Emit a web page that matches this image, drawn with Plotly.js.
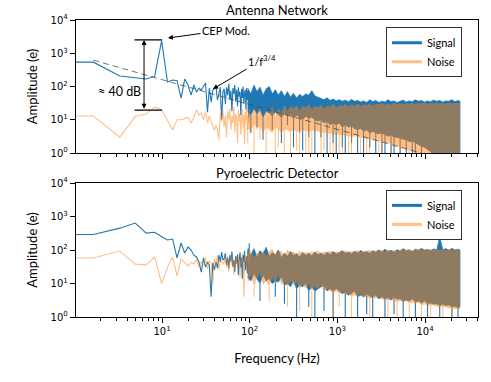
<!DOCTYPE html>
<html>
<head>
<meta charset="utf-8">
<script src="https://cdn.plot.ly/plotly-3.0.1.min.js"></script>
<style>
  html, body { margin: 0; padding: 0; background: #fff; }
  #graph { width: 491px; height: 382px; }
</style>
</head>
<body>
<div id="graph"></div>
<script>
// low frequency bins (individual points are visible here)
const freqLow = [1.0, 1.65, 3.3, 4.95, 6.6, 8.25, 9.9, 11.55, 13.2, 14.85, 16.5, 18.15, 19.8, 21.45, 23.1, 24.75,
  26.4, 28.05, 29.7, 31.35, 33.0, 34.65, 36.3, 37.95, 39.6, 41.25, 42.9, 44.55, 46.2, 47.85, 49.5, 51.15, 52.8,
  54.45, 56.1, 57.75, 59.4, 61.05, 62.7, 64.35, 66.0, 67.65, 69.3, 70.95, 72.6, 74.25, 75.9, 77.55, 79.2, 80.85,
  82.5, 84.15, 85.8, 87.45, 89.1, 90.75, 92.4, 94.05, 95.7, 97.35, 99.0];

const antSigLow = [540, 540, 207, 180, 168, 205, 2400, 136, 157, 150,
  45, 168, 111, 55, 111, 68, 90, 78, 98, 127,
  17, 90, 34, 78, 90, 103, 39, 60, 95, 10,
  70, 85, 30, 95, 55, 120, 40, 75, 18, 90,
  60, 110, 35, 80, 25, 95, 50, 70, 14, 85,
  45, 100, 30, 65, 80, 20, 90, 40, 75, 12, 60];
const antNoiseLow = [13, 13, 3, 12.5, 15, 24, 20, 10, 5, 10,
  10, 11, 12, 8, 12, 20, 14, 16, 10, 18,
  8, 13, 9, 6, 4.9, 7, 5, 2.5, 16, 9,
  20, 6, 14, 3, 18, 10, 22, 5, 13, 8,
  25, 4, 15, 11, 2, 19, 9, 16, 3.5, 12,
  21, 6, 14, 1.8, 17, 10, 24, 5, 13, 8, 20];
const pyroSigLow = [290, 290, 450, 640, 320, 340, 250, 200, 213, 58,
  162, 81, 123, 100, 70, 62, 44, 22, 58, 31,
  44, 36, 4, 41, 25, 44, 29, 70, 44, 87,
  50, 55, 80, 35, 60, 28, 70, 45, 90, 32,
  50, 22, 65, 40, 75, 18, 55, 85, 30, 60,
  14, 70, 45, 95, 25, 50, 65, 20, 110, 40, 160];
const pyroNoiseLow = [58, 58, 93, 38, 36, 62, 10, 30, 62, 17,
  54, 41, 33, 44, 38, 52, 30, 45, 36, 60,
  28, 48, 40, 10, 55, 33, 70, 26, 50, 45,
  38, 42, 65, 30, 55, 22, 48, 75, 35, 58,
  18, 50, 40, 68, 28, 45, 60, 15, 52, 38,
  80, 33, 4, 55, 45, 70, 25, 62, 40, 90, 50];

// dense part: upper envelope and lower base of the spectra
const bandFreq = [95, 103, 112, 121, 131, 142, 154, 167, 181, 196,
  212, 230, 249, 270, 292, 316, 343, 371, 402, 436,
  472, 511, 554, 600, 650, 704, 763, 826, 895, 970,
  1050, 1140, 1230, 1340, 1450, 1570, 1700, 1840, 1990, 2160,
  2340, 2530, 2740, 2970, 3220, 3490, 3780, 4090, 4430, 4800,
  5200, 5630, 6100, 6610, 7160, 7760, 8400, 9100, 9860, 10680,
  11570, 12530, 13580, 14710, 15930, 17260, 18700, 20250, 21940, 23770,
  25000];

const antSigHi = [90, 60, 110, 70, 95, 55, 85, 100, 60, 80,
  55, 75, 50, 70, 48, 62, 45, 58, 50, 60,
  55, 75, 52, 48, 44, 40, 46, 38, 42, 37,
  40, 36, 39, 35, 41, 36, 38, 34, 37, 33,
  40, 35, 38, 33, 36, 34, 40, 35, 37, 33,
  36, 39, 34, 37, 35, 40, 36, 38, 34, 37,
  35, 39, 36, 38, 34, 37, 36, 40, 35, 38,
  36];
const antSigLo = [18, 14, 22, 15, 20, 12, 18, 16, 13, 17,
  14, 12, 15, 13, 15, 11, 14, 12, 10, 13,
  11, 12, 10, 9, 10, 8, 9, 7, 8, 7,
  8, 6, 7, 6, 6.5, 5.5, 5, 5.5, 4.5, 5,
  4, 4.5, 4, 3.8, 4, 3.5, 3.2, 3.5, 3, 3,
  2.8, 2.6, 2.5, 2.2, 2.3, 2, 1.8, 1.6, 1.5, 1.3,
  1.1, 0.9, 0.7, 0.5, 0.5, 0.5, 0.5, 0.5, 0.5, 0.5,
  0.5];
const antNoiseHi = [18, 12, 22, 14, 25, 11, 20, 15, 26, 13,
  22, 17, 28, 18, 26, 22, 28, 19, 27, 23,
  30, 21, 26, 24, 29, 22, 27, 25, 30, 24,
  28, 26, 30, 25, 29, 27, 31, 26, 29, 28,
  31, 27, 30, 29, 32, 28, 31, 29, 32, 30,
  31, 29, 32, 30, 33, 30, 32, 31, 33, 30,
  32, 31, 33, 31, 32, 30, 33, 31, 32, 31,
  32];
const antNoiseLo = [6, 4, 8, 5, 7, 4, 6, 5, 4, 6,
  5, 4, 5, 5, 4, 5.5, 4, 5, 4.5, 5,
  4, 5, 4.5, 4.5, 4, 4.2, 3.8, 4, 3.5, 3.8,
  3.5, 3.6, 3.2, 3.4, 3, 3.2, 3, 2.8, 3, 2.6,
  2.7, 2.5, 2.4, 2.3, 2.2, 2, 2, 1.8, 1.7, 1.6,
  1.5, 1.4, 1.3, 1.2, 1.1, 1, 0.9, 0.8, 0.7, 0.6,
  0.5, 0.5, 0.5, 0.5, 0.5, 0.5, 0.5, 0.5, 0.5, 0.5,
  0.5];

const pyroSigHi = [90, 70, 110, 60, 95, 75, 120, 65, 85, 70,
  100, 60, 80, 65, 90, 70, 78, 62, 85, 70,
  80, 68, 88, 72, 82, 70, 86, 74, 90, 76,
  84, 95, 80, 88, 78, 92, 82, 96, 84, 90,
  80, 95, 86, 100, 88, 105, 90, 98, 86, 102,
  92, 110, 95, 100, 90, 106, 96, 112, 98, 104,
  95, 108, 100, 240, 102, 110, 98, 112, 100, 106,
  100];
const pyroSigLo = [15, 12, 20, 14, 10, 18, 12, 14, 10, 12,
  11, 16, 9, 10, 8, 12, 7, 9, 8, 10,
  6, 8, 6, 7, 8, 9, 6, 7, 6, 7,
  6, 5, 5.5, 4.5, 5, 6, 4, 4.5, 4, 5,
  4.2, 3.8, 4.5, 3.5, 4, 3.5, 3.8, 3.2, 4, 3.4,
  3.5, 3, 3.2, 3, 3.5, 2.8, 3, 2.6, 3, 2.5,
  2.6, 2.4, 2.5, 2.2, 2.4, 2.2, 2.3, 2, 2.1, 1.9,
  2];
const pyroNoiseHi = [70, 95, 60, 85, 75, 100, 65, 90, 110, 75,
  85, 95, 70, 105, 80, 90, 72, 95, 80, 88,
  74, 92, 82, 98, 78, 90, 84, 96, 80, 92,
  86, 88, 98, 84, 94, 86, 100, 88, 96, 90,
  102, 88, 98, 92, 96, 90, 104, 94, 100, 92,
  106, 96, 102, 108, 98, 104, 110, 100, 106, 98,
  108, 102, 110, 100, 106, 98, 108, 102, 110, 100,
  105];
const pyroNoiseLo = [10, 18, 8, 14, 20, 9, 12, 8, 15, 10,
  18, 9, 11, 8, 12, 9, 11, 7, 9, 7,
  10, 6, 8, 7, 9, 6, 7, 6, 5, 6,
  5, 6, 4.5, 5, 4, 4.5, 4, 5, 3.8, 4,
  3.5, 4, 3.5, 4.2, 3.2, 3.5, 3, 3.5, 3, 2.8,
  3, 2.8, 3, 2.5, 2.7, 2.5, 2.8, 2.2, 2.4, 2.2,
  2.2, 2.3, 2, 2.1, 1.9, 2, 1.8, 1.9, 1.7, 1.8,
  1.7];

// deep single-bin dips below the base (index into bandFreq, amplitude)
const antSigDipIdx = [1, 3, 5, 8, 11, 13, 15, 17, 18, 20, 22, 24, 26, 28, 29, 31, 32, 34, 36, 38,
  40, 42, 44, 45, 47, 48, 50, 52, 54, 55, 57];
const antSigDipAmp = [4, 6, 2.5, 5, 2, 7, 1.5, 4, 1.2, 3, 0.8, 3, 0.9, 2, 0.7, 1.5, 0.5, 2, 0.6, 0.5,
  1.5, 0.5, 1, 0.5, 0.8, 0.5, 0.6, 0.5, 0.7, 0.5, 0.5];
const antNoiseDipIdx = [0, 2, 4, 6, 9, 10, 12, 14, 16, 17, 19, 20, 21, 24, 25, 27, 28, 30, 31, 33,
  34, 37, 39, 40, 43, 44, 47, 50, 53, 56];
const antNoiseDipAmp = [2, 1, 2.5, 0.8, 0.6, 1.5, 0.5, 0.7, 1.2, 0.5, 1, 0.5, 0.8, 0.5, 1.2, 0.6, 0.5, 0.8, 0.5, 0.6,
  0.5, 0.5, 0.7, 0.5, 0.6, 0.5, 0.5, 0.5, 0.5, 0.5];
const pyroSigDipIdx = [4, 9, 12, 16, 20, 22, 25, 28, 32, 36, 39, 41, 45, 48, 51, 55, 59, 63, 67, 69];
const pyroSigDipAmp = [3, 4, 2.5, 0.8, 2, 0.6, 1.5, 0.6, 0.8, 0.5, 1.2, 0.6, 0.5, 1.2, 0.6, 0.7, 0.5, 0.6, 0.7, 0.5];
const pyroNoiseDipIdx = [2, 7, 13, 17, 21, 28, 30, 34, 40, 46, 49, 53, 57, 60, 64, 67];
const pyroNoiseDipAmp = [4, 3, 2, 1.5, 1, 1, 2, 0.8, 0.8, 0.7, 0.6, 0.7, 0.6, 0.7, 0.6, 0.5];

// 1/f^(3/4) guide line end points
const fitFreq = [1.65, 9000];
const fitAmp = [620, 1];

const yTicks = [1, 10, 100, 1000, 10000];
const yTickText = ["10<sup>0</sup>", "10<sup>1</sup>", "10<sup>2</sup>", "10<sup>3</sup>", "10<sup>4</sup>"];
const xTicks = [10, 100, 1000, 10000];
const xTickText = ["10<sup>1</sup>", "10<sup>2</sup>", "10<sup>3</sup>", "10<sup>4</sup>"];
const xMinor = [2, 3, 4, 5, 6, 7, 8, 9, 20, 30, 40, 50, 60, 70, 80, 90,
  200, 300, 400, 500, 600, 700, 800, 900, 2000, 3000, 4000, 5000, 6000, 7000, 8000, 9000,
  20000, 30000, 40000];

const BLUE = "#1f77b4";
const ORANGE = "rgba(255,127,14,0.5)";
const FONT = "Lato, 'Open Sans', sans-serif";

function band(hi, lo) {
    return {
        x: bandFreq.concat(bandFreq.slice().reverse()),
        y: hi.concat(lo.slice().reverse())
    };
}

// vertical dips hanging from the base of the band
function dips(idx, amp, lo) {
    const x = [], y = [];
    idx.forEach(function (k, i) {
        x.push(bandFreq[k], bandFreq[k], null);
        y.push(lo[k], amp[i], null);
    });
    return { x: x, y: y };
}

function panel(xa, ya, s, leg) {
    const sb = band(s.sigHi, s.sigLo);
    const nb = band(s.noiseHi, s.noiseLo);
    const sd = dips(s.sigDipIdx, s.sigDipAmp, s.sigLo);
    const nd = dips(s.noiseDipIdx, s.noiseDipAmp, s.noiseLo);
    const base = { xaxis: xa, yaxis: ya, type: "scatter", mode: "lines", showlegend: false, hoverinfo: "skip" };
    return [
        Object.assign({ x: freqLow, y: s.sigLow, line: { color: BLUE, width: 1.1 } }, base),
        Object.assign({ x: sb.x, y: sb.y, fill: "toself", fillcolor: BLUE, line: { color: BLUE, width: 0.8 } }, base),
        Object.assign({ x: sd.x, y: sd.y, line: { color: BLUE, width: 1.1 } }, base),
        Object.assign({ x: freqLow, y: s.noiseLow, line: { color: ORANGE, width: 1.1 } }, base),
        Object.assign({ x: nb.x, y: nb.y, fill: "toself", fillcolor: ORANGE, line: { width: 0 } }, base),
        Object.assign({ x: nd.x, y: nd.y, line: { color: ORANGE, width: 1.1 } }, base),
        { x: [null], y: [null], xaxis: xa, yaxis: ya, mode: "lines", name: "Signal",
          line: { color: BLUE, width: 3 }, legend: leg },
        { x: [null], y: [null], xaxis: xa, yaxis: ya, mode: "lines", name: "Noise",
          line: { color: ORANGE, width: 3 }, legend: leg }
    ];
}

const traces = panel("x", "y", {
    sigLow: antSigLow, noiseLow: antNoiseLow,
    sigHi: antSigHi, sigLo: antSigLo, noiseHi: antNoiseHi, noiseLo: antNoiseLo,
    sigDipIdx: antSigDipIdx, sigDipAmp: antSigDipAmp, noiseDipIdx: antNoiseDipIdx, noiseDipAmp: antNoiseDipAmp
}, "legend").concat(panel("x2", "y2", {
    sigLow: pyroSigLow, noiseLow: pyroNoiseLow,
    sigHi: pyroSigHi, sigLo: pyroSigLo, noiseHi: pyroNoiseHi, noiseLo: pyroNoiseLo,
    sigDipIdx: pyroSigDipIdx, sigDipAmp: pyroSigDipAmp, noiseDipIdx: pyroNoiseDipIdx, noiseDipAmp: pyroNoiseDipAmp
}, "legend2"));

traces.push({
    x: fitFreq, y: fitAmp, xaxis: "x", yaxis: "y", mode: "lines", type: "scatter",
    line: { color: "rgba(70,70,70,0.75)", width: 1, dash: "6px,4px" }, showlegend: false, hoverinfo: "skip"
});

function xAxis(anchor, labels) {
    return {
        type: "log", range: [0.019, 4.604], anchor: anchor,
        tickmode: "array", tickvals: xTicks, ticktext: xTickText, showticklabels: labels,
        ticks: "outside", ticklen: 5, tickwidth: 1, tickcolor: "#000",
        minor: { tickmode: "array", tickvals: xMinor, ticks: "outside", ticklen: 3, tickcolor: "#000" },
        showline: true, mirror: true, linecolor: "#000", linewidth: 1.2,
        showgrid: false, zeroline: false,
        tickfont: { family: "DejaVu Sans", size: 10, color: "#000" }
    };
}
function yAxis(anchor, dom) {
    return {
        type: "log", range: [0, 4], anchor: anchor, domain: dom,
        tickmode: "array", tickvals: yTicks, ticktext: yTickText,
        ticks: "outside", ticklen: 5, tickwidth: 1, tickcolor: "#000",
        showline: true, mirror: true, linecolor: "#000", linewidth: 1.2,
        showgrid: false, zeroline: false,
        tickfont: { family: "DejaVu Sans", size: 10, color: "#000" },
        title: { text: "Amplitude (e)", font: { family: FONT, size: 13, color: "#000" }, standoff: 10 }
    };
}

const xa2 = xAxis("y2", true);
xa2.title = { text: "Frequency (Hz)", font: { family: FONT, size: 13, color: "#000" }, standoff: 17 };

const legendStyle = {
    x: 0.771, xanchor: "left", yanchor: "top", bgcolor: "#fff",
    bordercolor: "#333", borderwidth: 1, font: { family: FONT, size: 11, color: "#000" },
    tracegroupgap: 0
};

const layout = {
    width: 491, height: 382,
    margin: { l: 76, r: 13, t: 20, b: 65 },
    paper_bgcolor: "#fff", plot_bgcolor: "#fff",
    font: { family: FONT, color: "#000" },
    xaxis: xAxis("y", false),
    yaxis: yAxis("x", [0.552, 1]),
    xaxis2: xa2,
    yaxis2: yAxis("x2", [0, 0.451]),
    legend: Object.assign({ y: 0.976 }, legendStyle),
    legend2: Object.assign({ y: 0.428 }, legendStyle),
    annotations: [
        { xref: "paper", yref: "paper", x: 0.5, y: 1, yanchor: "bottom", showarrow: false,
          text: "Antenna Network", font: { family: FONT, size: 13, color: "#000" } },
        { xref: "paper", yref: "paper", x: 0.5, y: 0.451, yanchor: "bottom", showarrow: false,
          text: "Pyroelectric Detector", font: { family: FONT, size: 13, color: "#000" } },
        { xref: "x", yref: "y", x: 1.068, y: 3.459, ax: 58, ay: -8, text: "CEP Mod.",
          showarrow: true, arrowhead: 2, arrowsize: 1, arrowwidth: 1, arrowcolor: "#000",
          font: { family: FONT, size: 11, color: "#000" } },
        { xref: "x", yref: "y", x: 1.581, y: 1.925, ax: 49, ay: -29, text: "1/f<sup>3/4</sup>",
          showarrow: true, arrowhead: 2, arrowsize: 1, arrowwidth: 1, arrowcolor: "#000",
          font: { family: FONT, size: 11, color: "#000" } },
        { xref: "x", yref: "y", x: 0.51, y: 1.865, text: "\u2248 40 dB", showarrow: false,
          font: { family: FONT, size: 12.5, color: "#000" } },
        { xref: "x", yref: "y", axref: "x", ayref: "y", x: 1.0, y: 3.40, ax: 0.669, ay: 3.40, text: "",
          showarrow: true, arrowhead: 0, arrowwidth: 1.2, arrowcolor: "#000" },
        { xref: "x", yref: "y", axref: "x", ayref: "y", x: 1.0, y: 1.29, ax: 0.669, ay: 1.29, text: "",
          showarrow: true, arrowhead: 0, arrowwidth: 1.2, arrowcolor: "#000" },
        { xref: "x", yref: "y", axref: "x", ayref: "y", x: 0.795, y: 3.40, ax: 0.795, ay: 1.29, text: "",
          showarrow: true, arrowhead: 2, arrowside: "end+start", arrowsize: 1, arrowwidth: 1, arrowcolor: "#000" }
    ]
};

Plotly.newPlot("graph", traces, layout, { staticPlot: true });
</script>
</body>
</html>
